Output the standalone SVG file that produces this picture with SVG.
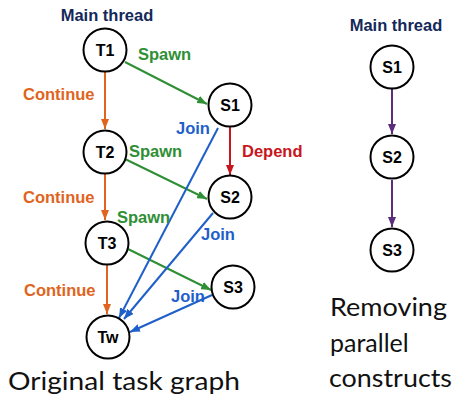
<svg xmlns="http://www.w3.org/2000/svg" width="456" height="398" viewBox="0 0 456 398">
  <style>
    .node circle { fill: #fff; stroke: #000; stroke-width: 2; }
    .node text { font-family: "Liberation Sans", Arial, sans-serif; font-weight: bold; font-size: 16px; text-anchor: middle; dominant-baseline: central; fill: #000; }
    .lbl { font-family: "Liberation Sans", Arial, sans-serif; font-weight: bold; font-size: 16.5px; }
    .title { fill: #14285a; text-anchor: middle; }
    .cont { fill: #e0641e; }
    .spawn { fill: #2f8f35; }
    .join { fill: #1f5fc9; }
    .dep { fill: #c8161d; }
    .cap { font-family: Lato, "Open Sans", sans-serif; font-size: 25px; fill: #111; }
    .e { fill: none; stroke-width: 2; }
    .e-cont { stroke: #e0641e; marker-end: url(#ah-cont); }
    .e-spawn { stroke: #2f8f35; marker-end: url(#ah-spawn); }
    .e-join { stroke: #1f5fc9; marker-end: url(#ah-join); }
    .e-dep { stroke: #c8161d; marker-end: url(#ah-dep); }
    .e-seq { stroke: #5a2d7d; marker-end: url(#ah-seq); }
  </style>
  <defs>
    <marker id="ah-cont" viewBox="0 0 10 8" refX="10" refY="4" markerWidth="10" markerHeight="8" markerUnits="userSpaceOnUse" orient="auto"><path d="M0,0 L10,4 L0,8 z" fill="#e0641e"/></marker>
    <marker id="ah-spawn" viewBox="0 0 10 8" refX="10" refY="4" markerWidth="10" markerHeight="8" markerUnits="userSpaceOnUse" orient="auto"><path d="M0,0 L10,4 L0,8 z" fill="#2f8f35"/></marker>
    <marker id="ah-join" viewBox="0 0 10 8" refX="10" refY="4" markerWidth="10" markerHeight="8" markerUnits="userSpaceOnUse" orient="auto"><path d="M0,0 L10,4 L0,8 z" fill="#1f5fc9"/></marker>
    <marker id="ah-dep" viewBox="0 0 10 8" refX="10" refY="4" markerWidth="10" markerHeight="8" markerUnits="userSpaceOnUse" orient="auto"><path d="M0,0 L10,4 L0,8 z" fill="#c8161d"/></marker>
    <marker id="ah-seq" viewBox="0 0 10 8" refX="10" refY="4" markerWidth="10" markerHeight="8" markerUnits="userSpaceOnUse" orient="auto"><path d="M0,0 L10,4 L0,8 z" fill="#5a2d7d"/></marker>
  </defs>

  <!-- connectors -->
  <g id="connectors">
    <line class="e e-cont" x1="105" y1="72" x2="105" y2="129"/>
    <line class="e e-cont" x1="105" y1="174" x2="105" y2="220"/>
    <line class="e e-cont" x1="107" y1="265" x2="107" y2="314"/>
    <line class="e e-spawn" x1="125" y1="62" x2="207" y2="104"/>
    <line class="e e-spawn" x1="125" y1="159" x2="207" y2="199"/>
    <line class="e e-spawn" x1="128" y1="249" x2="211" y2="290"/>
    <line class="e e-dep" x1="230" y1="127" x2="230" y2="175"/>
    <line class="e e-join" x1="218" y1="128" x2="119" y2="318"/>
    <line class="e e-join" x1="213" y1="213" x2="124" y2="319"/>
    <line class="e e-join" x1="212" y1="295" x2="130" y2="332"/>
    <line class="e e-seq" x1="392" y1="89" x2="392" y2="134"/>
    <line class="e e-seq" x1="392" y1="180" x2="392" y2="227"/>
  </g>

  <!-- edge labels -->
  <g id="labels" class="lbl">
    <text class="title" x="107" y="21">Main thread</text>
    <text class="spawn" x="138" y="60">Spawn</text>
    <text class="cont" x="23" y="100">Continue</text>
    <text class="join" x="176" y="134">Join</text>
    <text class="spawn" x="129" y="157">Spawn</text>
    <text class="dep" x="242" y="157">Depend</text>
    <text class="cont" x="23" y="203">Continue</text>
    <text class="spawn" x="117" y="223">Spawn</text>
    <text class="join" x="201" y="240">Join</text>
    <text class="cont" x="24" y="296">Continue</text>
    <text class="join" x="171" y="302">Join</text>
    <text class="title" x="396" y="31">Main thread</text>
  </g>

  <!-- original task graph nodes -->
  <g id="T1" class="node"><circle cx="105" cy="50" r="21.5"/><text x="105" y="50">T1</text></g>
  <g id="S1" class="node"><circle cx="230" cy="105" r="21.5"/><text x="230" y="105">S1</text></g>
  <g id="T2" class="node"><circle cx="105" cy="152" r="21.5"/><text x="105" y="152">T2</text></g>
  <g id="S2" class="node"><circle cx="230" cy="197" r="21.5"/><text x="230" y="197">S2</text></g>
  <g id="T3" class="node"><circle cx="107" cy="243" r="21.5"/><text x="107" y="243">T3</text></g>
  <g id="S3" class="node"><circle cx="233" cy="287" r="21.5"/><text x="233" y="287">S3</text></g>
  <g id="Tw" class="node"><circle cx="108" cy="337" r="21.5"/><text x="108" y="337">Tw</text></g>

  <!-- sequentialised nodes -->
  <g id="R1" class="node"><circle cx="392" cy="67" r="21.5"/><text x="392" y="67">S1</text></g>
  <g id="R2" class="node"><circle cx="392" cy="157" r="21.5"/><text x="392" y="157">S2</text></g>
  <g id="R3" class="node"><circle cx="392" cy="250" r="21.5"/><text x="392" y="250">S3</text></g>

  <!-- captions -->
  <g id="captions" class="cap">
    <text x="8" y="390" textLength="232" lengthAdjust="spacingAndGlyphs">Original task graph</text>
    <text x="330" y="316" textLength="117" lengthAdjust="spacingAndGlyphs">Removing</text>
    <text x="330" y="352">parallel</text>
    <text x="329" y="387" textLength="123" lengthAdjust="spacingAndGlyphs">constructs</text>
  </g>
</svg>
